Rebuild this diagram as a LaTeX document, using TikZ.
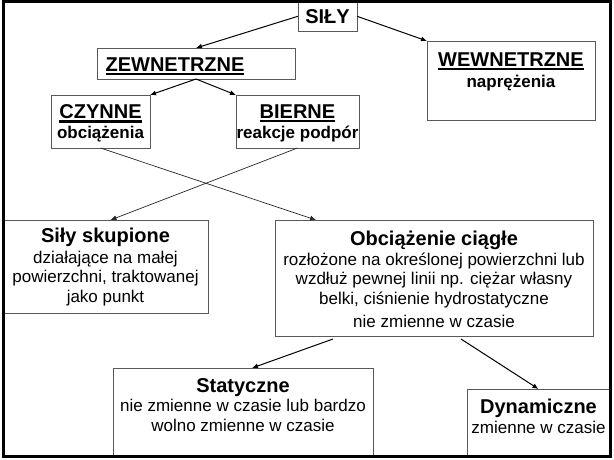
\documentclass[tikz,border=0pt]{standalone}
\usepackage{fontspec}
\setmainfont{Liberation Sans}
\usetikzlibrary{arrows.meta,calc}
\definecolor{boxgray}{gray}{0.35}
\newcommand\thul[1]{\vtop{\hbox{#1}\kern1.5pt\hrule height 2.8pt}}
\begin{document}
\begin{tikzpicture}[x=1pt,y=-1pt,
  box/.style={draw=boxgray, line width=1pt, inner sep=0pt, outer sep=0pt, anchor=north west, fill=white},
  ttl/.style={font=\fontsize{20}{22}\selectfont\bfseries, anchor=base, inner sep=0pt},
  sub/.style={font=\fontsize{17}{20}\selectfont\bfseries, anchor=base, inner sep=0pt},
  body/.style={font=\fontsize{17}{19.5}\selectfont, anchor=base, inner sep=0pt, align=center},
  arr/.style={-{Latex[length=6pt,width=5pt]}, line width=1pt, black},
  thin/.style={-{Latex[length=6pt,width=5pt]}, line width=0.7pt, black!85},
]
\useasboundingbox (0,0) rectangle (614,459);
% boxes
\node[box, minimum width=59pt,  minimum height=29.5pt] (sily)   at (298,1.5) {};
\node[box, minimum width=198pt, minimum height=31pt]   (zewn)   at (97,48) {};
\node[box, minimum width=168pt, minimum height=79pt]   (wewn)   at (427,41) {};
\node[box, minimum width=99pt,  minimum height=53pt]   (czyn)   at (51,95) {};
\node[box, minimum width=123pt, minimum height=53pt]   (bier)   at (236,95) {};
\node[box, minimum width=205pt, minimum height=93pt]   (skup)   at (3,220) {};
\node[box, minimum width=318pt, minimum height=116pt]  (obc)    at (275,220) {};
\node[box, minimum width=260pt, minimum height=88.5pt] (stat)   at (113,368) {};
\node[box, minimum width=143pt, minimum height=67.5pt] (dyn)    at (467,389) {};
% outer frame
\node[draw, line width=3pt, inner sep=0pt, outer sep=0pt, anchor=north west,
      minimum width=607pt, minimum height=455pt] (frame) at (3,1.5) {};
% connectors
\draw[arr] (sily.west) -- (zewn.north);
\draw[arr] (sily.east) -- (wewn.north west);
\draw[arr] (zewn.south) -- (czyn.north east);
\draw[arr] (zewn.south) -- (bier.north west);
\draw[thin] (czyn.south) -- ($(obc.north west)+(41,0)$);
\draw[thin] (bier.south) -- ($(skup.north)+(5,0)$);
\draw[arr] ($(obc.south west)+(58,3)$) -- ($(stat.north)+(9,0)$);
\draw[arr] ($(obc.south west)+(186,3)$) -- (dyn.north);
% texts (multi-line body nodes are placed by the baseline of their last line)
\node[ttl] (tsily) at (327.5,23) {SIŁY};
\node[ttl] (tzewn) at (175,71) {\thul{ZEWNETRZNE}};
\node[ttl] (twewn) at (511,66) {\thul{WEWNETRZNE}};
\node[sub] (swewn) at (511,87) {naprężenia};
\node[ttl] (tczyn) at (100.5,118) {\thul{CZYNNE}};
\node[sub] (sczyn) at (100.5,138) {obciążenia};
\node[ttl] (tbier) at (297.5,118) {\thul{BIERNE}};
\node[sub] (sbier) at (297.5,138) {reakcje podpór};
\node[ttl] (tskup) at (105.5,242) {Siły skupione};
\node[body] (bskup) at (105.5,302) {działające na małej\\powierzchni, traktowanej\\jako punkt};
\node[ttl] (tobc) at (434,245) {Obciążenie ciągłe};
\node[body] (bobc) at (434,304) {rozłożone na określonej powierzchni lub\\wzdłuż pewnej linii np. ciężar własny\\belki, ciśnienie hydrostatyczne};
\node[body] (bobc2) at (434,327) {nie zmienne w czasie};
\node[ttl] (tstat) at (243,392) {Statyczne};
\node[body] (bstat) at (243,431) {nie zmienne w czasie lub bardzo\\wolno zmienne w czasie};
\node[ttl] (tdyn) at (538.5,413) {Dynamiczne};
\node[body] (bdyn) at (538.5,433) {zmienne w czasie};
\end{tikzpicture}
\end{document}
